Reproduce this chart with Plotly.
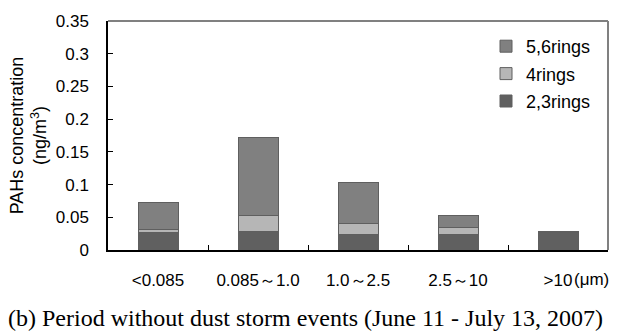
import plotly.graph_objects as go

categories = ["<0.085", "0.085～1.0", "1.0～2.5", "2.5～10", ">10"]
rings_23 = [0.026, 0.029, 0.023, 0.024, 0.026]
rings_4 = [0.006, 0.024, 0.017, 0.010, 0.001]
rings_56 = [0.040, 0.119, 0.063, 0.018, 0.002]
y_ticks = [0, 0.05, 0.1, 0.15, 0.2, 0.25, 0.3, 0.35]

W, H = 618, 331
L, R, T, B = 108, 10, 21, 81
pw, ph = W - L - R, H - T - B

def px_x(x):
    return (x - L) / pw

def px_y(y):
    return (H - B - y) / ph

edge = "#5f5f5f"
fig = go.Figure()
series = [("2,3rings", rings_23, "#606060", 3),
          ("4rings", rings_4, "#b6b6b6", 2),
          ("5,6rings", rings_56, "#808080", 1)]
for name, vals, col, rank in series:
    fig.add_trace(go.Bar(x=categories, y=vals, name=name, legendgroup=name,
                         legendrank=rank,
                         marker=dict(color=col, line=dict(color=edge, width=1)),
                         width=0.4))

font = "Liberation Sans, Arial, sans-serif"
fig.update_layout(
    width=W, height=H, barmode="stack",
    margin=dict(l=L, r=R, t=T, b=B, pad=0),
    plot_bgcolor="white", paper_bgcolor="white",
    font=dict(family=font, size=17, color="black"),
    showlegend=True,
    legend=dict(x=px_x(486), y=px_y(28), xanchor="left", yanchor="top",
                tracegroupgap=1,
                font=dict(size=18), bgcolor="rgba(0,0,0,0)", itemwidth=30),
    xaxis=dict(type="category", showline=True, linecolor="black", linewidth=1.5,
               ticks="inside", tickson="boundaries", ticklen=5, tickcolor="black",
               tickwidth=1, showgrid=False, ticklabelstandoff=14,
               tickfont=dict(size=17)),
    yaxis=dict(range=[0, 0.35], tickvals=y_ticks, ticktext=[f"{v:g}" for v in y_ticks],
               showline=True, linecolor="black", linewidth=1.5,
               ticks="inside", ticklen=5, tickcolor="black", tickwidth=1,
               showgrid=False, zeroline=False, ticklabelstandoff=14,
               tickfont=dict(size=17),
               title=dict(text="PAHs concentration<br>(ng/m<sup>3</sup>)",
                          font=dict(size=18), standoff=4)),
)

# top and right frame in grey
fig.add_shape(type="line", xref="paper", yref="paper", x0=0, x1=1, y0=1, y1=1,
              line=dict(color="#808080", width=2))
fig.add_shape(type="line", xref="paper", yref="paper", x0=1, x1=1, y0=0, y1=1,
              line=dict(color="#808080", width=2))

fig.add_annotation(text="(μm)", xref="paper", yref="paper", x=px_x(572), y=px_y(279),
                   xanchor="left", yanchor="middle", showarrow=False,
                   font=dict(size=17))
fig.add_annotation(text="(b) Period without dust storm events (June 11 - July 13, 2007)",
                   xref="paper", yref="paper", x=px_x(6), y=px_y(318),
                   xanchor="left", yanchor="middle", showarrow=False,
                   font=dict(family="Liberation Serif, Times New Roman, serif", size=24))

fig.write_html("out.html")
